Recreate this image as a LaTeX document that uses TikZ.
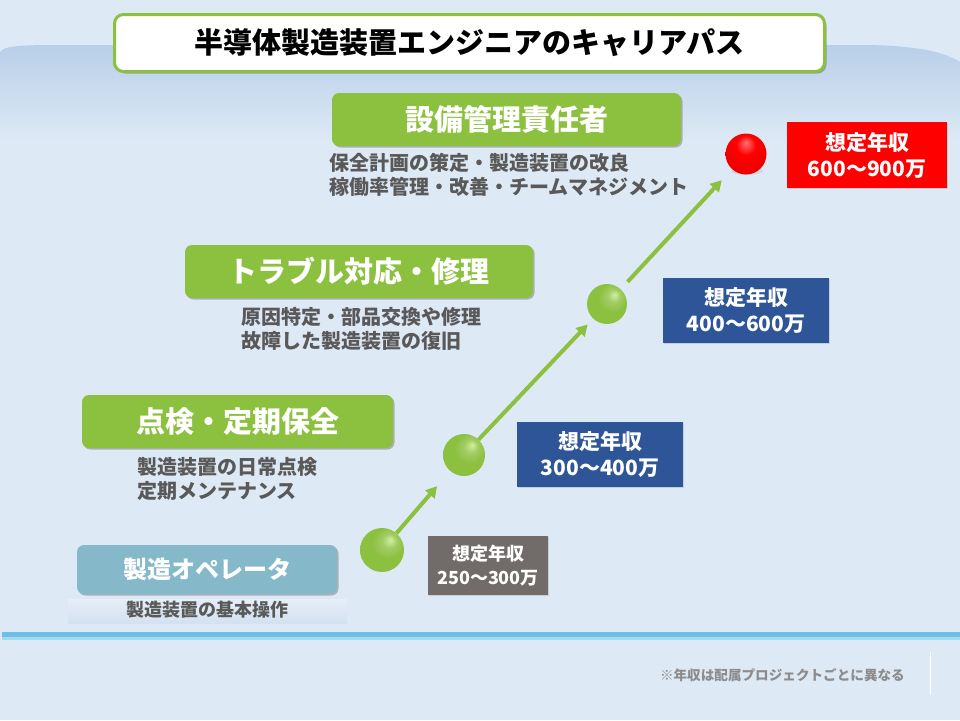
\documentclass[tikz,border=0pt]{standalone}
\usepackage{fontspec}
\newfontfamily\jp{Noto Sans CJK JP}
\usetikzlibrary{shadows,arrows.meta}
\definecolor{bg}{HTML}{DDE9F5}
\definecolor{bandtop}{HTML}{B8CFE9}
\definecolor{lgreen}{HTML}{8CC03F}
\definecolor{optcol}{HTML}{85B8C8}
\definecolor{desccol}{HTML}{595959}
\definecolor{navy}{HTML}{2E5597}
\definecolor{graybox}{HTML}{716C69}
\definecolor{redbox}{HTML}{FF0000}
\definecolor{linecol}{HTML}{6CC0E8}
\definecolor{linelt}{HTML}{A9D8F1}
\definecolor{notecol}{HTML}{8C8C8C}
\definecolor{glight}{HTML}{D2F0A0}
\definecolor{bandlow}{HTML}{E6EEF8}
\definecolor{bandlow2}{HTML}{D3E1F0}
\pgfdeclareradialshading{gball}{\pgfpoint{10bp}{12bp}}{color(0bp)=(glight);color(8bp)=(lgreen!80!white);color(18bp)=(lgreen);color(40bp)=(lgreen);color(50bp)=(lgreen!92!black)}
\pgfdeclareradialshading{rball}{\pgfpoint{0bp}{14bp}}{color(0bp)=(red!55!white);color(12bp)=(red);color(32bp)=(red!92!black);color(50bp)=(red!65!black)}
\tikzset{
  stagebox/.style={rounded corners=7pt, fill=lgreen, text=white, inner sep=0pt,
    minimum height=53pt, font=\jp\bfseries\fontsize{29}{32}\selectfont,
    drop shadow={shadow xshift=1.5pt, shadow yshift=-1.5pt, opacity=0.35, fill=black!70}},
  desctext/.style={text=desccol, inner sep=0pt, align=left,
    font=\jp\bfseries\fontsize{20}{24}\selectfont},
  salary/.style={text=white, inner sep=0pt, align=center,
    font=\jp\bfseries\fontsize{21}{26}\selectfont,
    drop shadow={shadow xshift=1pt, shadow yshift=-1pt, opacity=0.2, fill=black!60}},
  ballnode/.style={circle, inner sep=0pt, shade, shading=#1},
  arrowln/.style={draw=lgreen, line width=4pt, -{Triangle[length=11pt,width=12pt]}},
}
\begin{document}
\begin{tikzpicture}[x=1pt,y=-1pt]
\useasboundingbox (0,0) rectangle (960,720);
\fill[bg] (0,0) rectangle (960,720);
\shade[top color=bandtop, bottom color=bg] (0,52) .. controls (4,46) and (20,45) .. (60,45) -- (860,45) .. controls (915,45) and (945,52) .. (960,62) -- (960,140) -- (0,140) -- cycle;
% bottom rule
\fill[linecol] (2,632) rectangle (960,637);
\fill[linelt] (2,637) rectangle (960,640);
\draw[white, line width=1pt] (930,652) -- (930,695);
% title
\node[draw=lgreen, line width=3pt, fill=white, rounded corners=9pt, minimum width=710pt, minimum height=57pt, inner sep=0pt,
  font=\jp\bfseries\fontsize{29}{32}\selectfont,
  drop shadow={shadow xshift=2pt, shadow yshift=-2pt, opacity=0.4, fill=black!70}] (title) at (469.5,43) {半導体製造装置エンジニアのキャリアパス};
% stage boxes
\node[stagebox, minimum width=349pt] (st4) at (506.5,119.5) {設備管理責任者};
\node[stagebox, minimum width=348pt] (st3) at (359,271.5) {トラブル対応・修理};
\node[stagebox, minimum width=311pt] (st2) at (237.5,421.5) {点検・定期保全};
\shade[top color=bandlow, bottom color=bandlow2] (68,599) rectangle (347,623);
\node[stagebox, fill=optcol, minimum width=260pt, minimum height=49pt, font=\jp\bfseries\fontsize{24}{28}\selectfont] (st1) at (207,569.5) {製造オペレータ};
% descriptions
\node[desctext, anchor=west] (d4) at (329,175) {保全計画の策定・製造装置の改良\\稼働率管理・改善・チームマネジメント};
\node[desctext, anchor=west] (d3) at (241,329) {原因特定・部品交換や修理\\故障した製造装置の復旧};
\node[desctext, anchor=west] (d2) at (137,478.5) {製造装置の日常点検\\定期メンテナンス};
\node[desctext, font=\jp\bfseries\fontsize{18}{22}\selectfont] (d1) at (207.5,610) {製造装置の基本操作};
% balls
\node[ballnode=gball, minimum size=44pt] (b1) at (382,550) {};
\node[ballnode=gball, minimum size=42pt] (b2) at (464,455) {};
\node[ballnode=gball, minimum size=40pt] (b3) at (607,304) {};
\fill[black, opacity=0.07] (747,171) ellipse (16pt and 4pt);
\node[ballnode=rball, minimum size=41pt] (b4) at (746,154) {};
% arrows
\draw[arrowln, shorten >=20pt] (b1) -- (b2);
\draw[arrowln, shorten >=8pt] (b2) -- (b3);
\draw[arrowln, shorten <=10pt, shorten >=15pt] (b3) -- (b4);
% salaries
\node[salary, fill=graybox, minimum width=120pt, minimum height=59pt, font=\jp\bfseries\fontsize{18}{24}\selectfont] (s1) at (488,565.5) {想定年収\\250〜300万};
\node[salary, fill=navy, minimum width=166pt, minimum height=65pt] (s2) at (600,454.5) {想定年収\\300〜400万};
\node[salary, fill=navy, minimum width=166pt, minimum height=65pt] (s3) at (746,310.5) {想定年収\\400〜600万};
\node[salary, fill=redbox, minimum width=160pt, minimum height=66pt] (s4) at (867,155) {想定年収\\600〜900万};
% note
\node[anchor=east, inner sep=0pt, text=notecol, font=\jp\bfseries\fontsize{13.6}{16}\selectfont] (note) at (905,675.5) {※年収は配属プロジェクトごとに異なる};
\end{tikzpicture}
\end{document}
